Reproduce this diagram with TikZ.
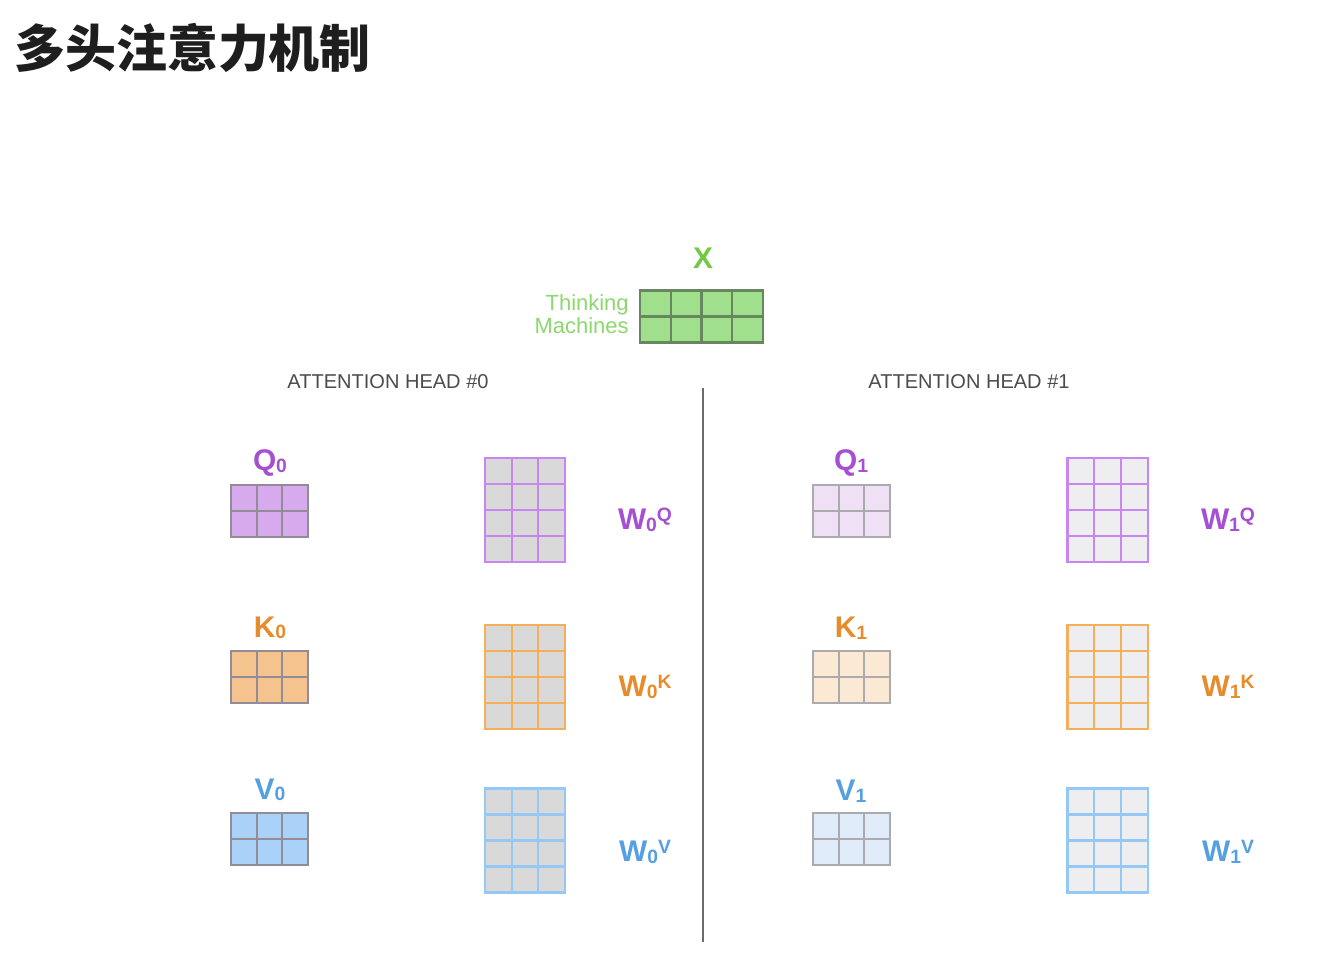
\documentclass[tikz,border=0pt]{standalone}
\usepackage{fontspec}
\setmainfont{Liberation Sans}
\newfontfamily\cjk{Noto Sans CJK SC}

\definecolor{tituloc}{RGB}{30,30,30}
\definecolor{verde}{RGB}{115,200,70}
\definecolor{verdeclaro}{RGB}{140,215,110}
\definecolor{verdefill}{RGB}{160,224,140}
\definecolor{verdeline}{RGB}{105,135,95}
\definecolor{morado}{RGB}{165,80,210}
\definecolor{naranja}{RGB}{230,140,45}
\definecolor{azul}{RGB}{85,160,225}
\definecolor{qfill0}{RGB}{215,170,238}
\definecolor{kfill0}{RGB}{245,196,142}
\definecolor{vfill0}{RGB}{170,210,248}
\definecolor{qfill1}{RGB}{240,224,246}
\definecolor{kfill1}{RGB}{252,233,212}
\definecolor{vfill1}{RGB}{224,236,250}
\definecolor{grisline0}{RGB}{145,140,150}
\definecolor{grisline1}{RGB}{170,170,175}
\definecolor{wfill0}{RGB}{217,217,217}
\definecolor{wfill1}{RGB}{238,238,240}
\definecolor{wq}{RGB}{200,135,240}
\definecolor{wk}{RGB}{245,175,90}
\definecolor{wv}{RGB}{150,200,245}
\definecolor{cabeza}{RGB}{75,75,75}

% #1 name, #2 x, #3 y, #4 cols, #5 rows, #6 cell width (px), #7 fill, #8 line
\newcommand{\bloque}[8]{%
  \node[bloque, fill=#7, draw=#8, minimum width=#4*#6*0.02cm,
        minimum height=#5*26*0.02cm] (#1) at (#2,#3) {};
  \begin{scope}[shift={(#1.north west)}]
    \foreach \i in {2,...,#4} \draw[#8, line width=1.2pt] ({(\i-1)*#6},0) -- ++(0,#5*26);
    \foreach \j in {2,...,#5} \draw[#8, line width=1.2pt] (0,{(\j-1)*26}) -- ++(#4*#6,0);
  \end{scope}
}
\newcommand{\sub}[1]{\raisebox{-0.1ex}{\fontsize{11}{11}\selectfont #1}}
\newcommand{\arriba}[1]{\raisebox{0.27em}{\fontsize{11}{11}\selectfont #1}}

\begin{document}
\begin{tikzpicture}[x=0.02cm,y=-0.02cm]
\tikzstyle{bloque}=[rectangle,inner sep=0pt,outer sep=0pt,line width=1.2pt]
\tikzstyle{etiqueta}=[font=\fontsize{17}{20}\selectfont\bfseries,inner sep=0pt]
\tikzstyle{cabecera}=[font=\fontsize{11.4}{13}\selectfont,text=cabeza,inner sep=0pt]

\useasboundingbox (0,0) rectangle (1344,955);

\node[anchor=west,font=\cjk\bfseries\fontsize{29}{31}\selectfont,text=tituloc] (titulo) at (8,48) {多头注意力机制};

% input
\node[etiqueta,text=verde] (xlabel) at (703,258) {X};
\node[anchor=east,align=right,text=verdeclaro,font=\fontsize{12.5}{13}\selectfont,inner sep=0pt] (palabras) at (629,314) {Thinking\\Machines};
\bloque{x}{701.5}{316.5}{4}{2}{30.75}{verdefill}{verdeline}

\node[cabecera] (head0) at (388,382) {ATTENTION HEAD \#0};
\node[cabecera] (head1) at (969,382) {ATTENTION HEAD \#1};

\coordinate (arriba) at (703,388);
\coordinate (abajo) at (703,942);
\draw[line width=1.6pt,draw=gray!85!black] (arriba) -- (abajo);

% head 0
\node[etiqueta,text=morado] (q0label) at (270,463) {Q\sub{0}};
\node[etiqueta,text=naranja] (k0label) at (270,628) {K\sub{0}};
\node[etiqueta,text=azul] (v0label) at (270,790) {V\sub{0}};
\bloque{q0}{269.5}{511}{3}{2}{25.7}{qfill0}{grisline0}
\bloque{k0}{269.5}{677}{3}{2}{25.7}{kfill0}{grisline0}
\bloque{v0}{269.5}{839}{3}{2}{25.7}{vfill0}{grisline0}
\bloque{wq0}{525}{510}{3}{4}{26.7}{wfill0}{wq}
\bloque{wk0}{525}{677}{3}{4}{26.7}{wfill0}{wk}
\bloque{wv0}{525}{840.5}{3}{4}{26.7}{wfill0}{wv}
\node[etiqueta,text=morado] (wq0label) at (645,520) {W\sub{0}\arriba{Q}};
\node[etiqueta,text=naranja] (wk0label) at (645,687) {W\sub{0}\arriba{K}};
\node[etiqueta,text=azul] (wv0label) at (645,852) {W\sub{0}\arriba{V}};

% head 1
\node[etiqueta,text=morado] (q1label) at (851,463) {Q\sub{1}};
\node[etiqueta,text=naranja] (k1label) at (851,628) {K\sub{1}};
\node[etiqueta,text=azul] (v1label) at (851,791) {V\sub{1}};
\bloque{q1}{851.5}{511}{3}{2}{25.7}{qfill1}{grisline1}
\bloque{k1}{851.5}{677}{3}{2}{25.7}{kfill1}{grisline1}
\bloque{v1}{851.5}{839}{3}{2}{25.7}{vfill1}{grisline1}
\bloque{wq1}{1107.5}{510}{3}{4}{26.7}{wfill1}{wq}
\bloque{wk1}{1107.5}{677}{3}{4}{26.7}{wfill1}{wk}
\bloque{wv1}{1107.5}{840.5}{3}{4}{26.7}{wfill1}{wv}
\node[etiqueta,text=morado] (wq1label) at (1228,520) {W\sub{1}\arriba{Q}};
\node[etiqueta,text=naranja] (wk1label) at (1228,687) {W\sub{1}\arriba{K}};
\node[etiqueta,text=azul] (wv1label) at (1228,852) {W\sub{1}\arriba{V}};
\end{tikzpicture}
\end{document}
